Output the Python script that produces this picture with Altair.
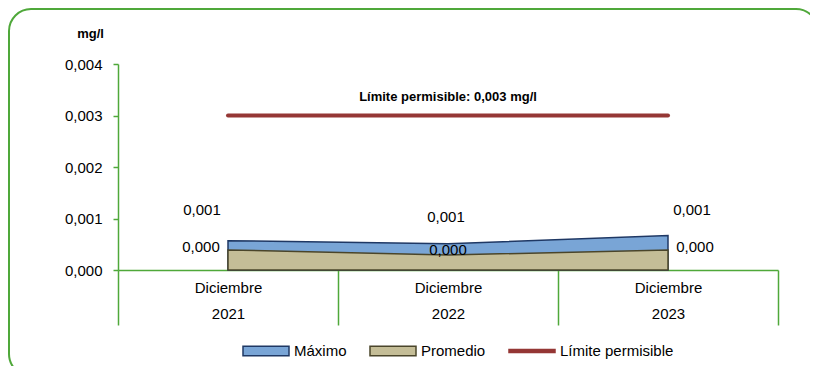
import altair as alt
import pandas as pd

categorias = ["Diciembre 2021", "Diciembre 2022", "Diciembre 2023"]
maximo = [0.00057, 0.00051, 0.00067]
promedio = [0.00039, 0.00029, 0.00039]
limite = [0.003, 0.003, 0.003]
series = ["Máximo", "Promedio", "Límite permisible"]
texto_limite = "Límite permisible: 0,003 mg/l"
unidad = "mg/l"
y_ticks = [0, 0.001, 0.002, 0.003, 0.004]

GREEN = "#4fa83a"
fill_colors = ["#79a5d6", "#c4bd97", "#953735"]
stroke_colors = ["#1f3864", "#4a452a", "#953735"]
FONT = "Liberation Sans"

df = pd.DataFrame({
    "cat": categorias * 2,
    "valor": maximo + promedio,
    "serie": [series[0]] * 3 + [series[1]] * 3,
})
df_lim = pd.DataFrame({"cat": categorias, "valor": limite, "serie": [series[2]] * 3})
df_txt = pd.DataFrame({"cat": [categorias[1]], "valor": [limite[1]], "t": [texto_limite]})

x_enc = alt.X(
    "cat:N",
    bandPosition=0.5,
    scale=alt.Scale(domain=categorias, paddingInner=0, paddingOuter=0),
    axis=alt.Axis(
        title=None, labelAngle=0, domainColor=GREEN, domainWidth=1.5,
        tickColor=GREEN, tickWidth=1.5, tickSize=55, tickBand="extent",
        labelExpr="split(datum.label, ' ')", labelFontSize=15, labelColor="black",
        labelPadding=-45, labelLineHeight=26, labelFont=FONT,
    ),
)
y_enc = alt.Y(
    "valor:Q",
    stack=None,
    scale=alt.Scale(domain=[0, 0.004], nice=False),
    axis=alt.Axis(
        values=y_ticks, grid=False,
        labelExpr="replace(format(datum.value, '.3f'), '.', ',')",
        labelFontSize=15, labelColor="black", labelFont=FONT, labelPadding=11,
        domainColor=GREEN, domainWidth=1.5, tickColor=GREEN, tickWidth=1.5, tickSize=5,
        title=unidad, titleAngle=0, titleX=-28, titleY=-31, titleAlign="center",
        titleBaseline="middle", titleFontWeight="bold", titleFontSize=13, titleFont=FONT,
        titleColor="black",
    ),
)

legend = alt.Legend(
    title=None, orient="none", legendX=124, legendY=263, direction="horizontal",
    symbolType=alt.ExprRef(
        "datum.value === 'Límite permisible' ? 'M-1,-0.06H1V0.06H-1Z' : 'M-1,-0.21H1V0.21H-1Z'"
    ),
    symbolSize=2116, symbolStrokeWidth=1.5, labelFontSize=15, labelFont=FONT,
    labelColor="black", columnPadding=20, labelOffset=4,
)
fill_enc = alt.Fill("serie:N", scale=alt.Scale(domain=series, range=fill_colors), legend=legend)
stroke_enc = alt.Stroke("serie:N", scale=alt.Scale(domain=series, range=stroke_colors), legend=legend)

base = alt.Chart(df)

area_max = base.transform_filter(alt.datum.serie == series[0]).mark_area(
    strokeWidth=1.5, interpolate="linear"
).encode(x=x_enc, y=y_enc, fill=fill_enc, stroke=stroke_enc)

area_prom = base.transform_filter(alt.datum.serie == series[1]).mark_area(
    strokeWidth=1.5, interpolate="linear"
).encode(x=x_enc, y=y_enc, fill=fill_enc, stroke=stroke_enc)

line_lim = alt.Chart(df_lim).mark_line(strokeWidth=4, strokeCap="round").encode(
    x=x_enc, y=y_enc, stroke=stroke_enc
)

# data-label offsets (style only)
off_max = [(-26, -31), (-2, -27), (24, -25)]
off_prom = [(-27, -3), (0, -5), (27, -3)]

labels = []
for serie_name, offs in [(series[0], off_max), (series[1], off_prom)]:
    for cat, (dx, dy) in zip(categorias, offs):
        labels.append(
            base.transform_filter((alt.datum.serie == serie_name) & (alt.datum.cat == cat))
            .transform_calculate(lbl="replace(format(datum.valor, '.3f'), '.', ',')")
            .mark_text(fontSize=15, font=FONT, color="black", dx=dx, dy=dy, baseline="middle")
            .encode(x=x_enc, y=y_enc, text="lbl:N")
        )

lim_txt = alt.Chart(df_txt).mark_text(
    fontSize=13, fontWeight="bold", font=FONT, color="black", dy=-19, baseline="middle"
).encode(x=x_enc, y=y_enc, text="t:N")

border = alt.Chart(pd.DataFrame({"a": [0]})).mark_rect(
    fill="white", fillOpacity=0, stroke=GREEN, strokeWidth=2, cornerRadius=22
).encode(x=alt.value(-109), x2=alt.value(700), y=alt.value(-55), y2=alt.value(312))

chart = alt.layer(area_max, area_prom, line_lim, *labels, lim_txt, border).properties(
    width=660, height=206,
    autosize=alt.AutoSizeParams(type="none"),
    padding={"left": 110, "top": 56, "right": 32, "bottom": 96},
).configure(font=FONT, view=alt.ViewConfig(stroke=None))

chart.save("out.html", embed_options={"renderer": "svg", "actions": False})
